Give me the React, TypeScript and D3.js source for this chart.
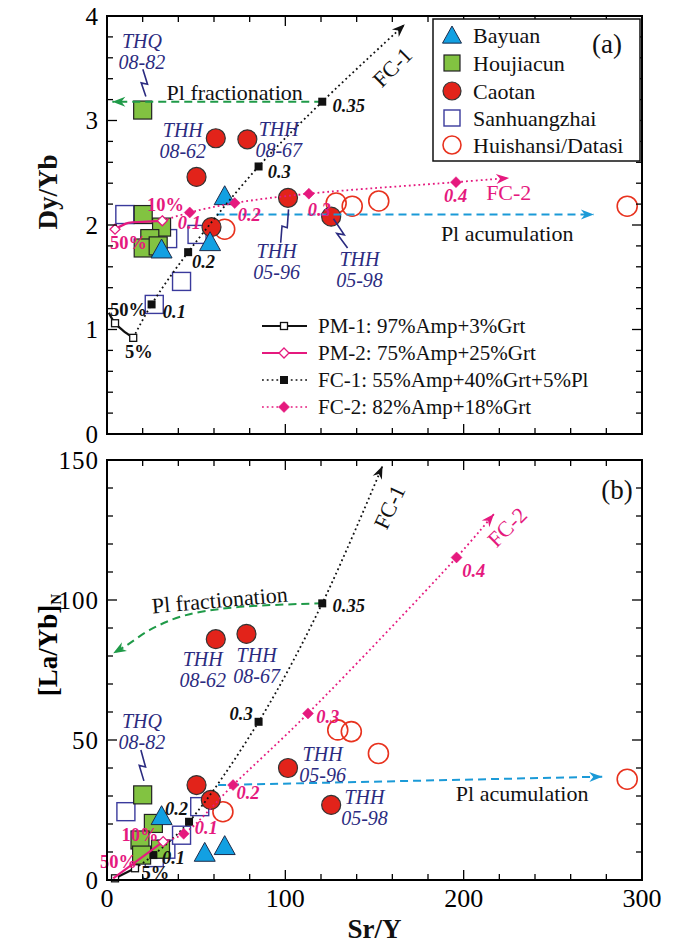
import React from "react";
import * as d3 from "d3";

// ---------- data ----------
const xTickLabels = [0, 100, 200, 300];
const yTickLabelsA = [0, 1, 2, 3, 4];
const yTickLabelsB = [0, 50, 100, 150];

const bayuanA = [[66, 2.27], [57.8, 1.83], [30.6, 1.76]];
const houjiacunA = [[20, 3.1], [20.3, 2.1], [30.6, 1.98], [24, 1.87], [20.3, 1.78], [28.7, 1.8]];
const caotanA = [[61, 2.83], [78.7, 2.82], [50.2, 2.46], [101.5, 2.26], [58.6, 1.98], [125.7, 2.08]];
const sanhuangzhaiA = [[10, 2.1], [34, 1.87], [50.5, 1.91], [41.8, 1.46], [26.5, 1.24]];
const huishansiA = [[66, 1.96], [128.5, 2.21], [137.5, 2.18], [152.4, 2.23], [291.7, 2.18]];

const bayuanB = [[30.6, 22.6], [54.8, 9.5], [66, 11.9]];
const houjiacunB = [[20, 30.4], [26, 20.2], [18.5, 14.3], [19.4, 8.9], [30, 11]];
const caotanB = [[61, 86], [78.2, 87.9], [50.2, 33.9], [58.2, 28.6], [101.5, 40], [125.7, 26.8]];
const sanhuangzhaiB = [[10.6, 24.4], [26.5, 8], [33, 11], [41.8, 16], [52, 26.2]];
const huishansiB = [[65, 24.4], [129.4, 53.6], [137, 53], [152.2, 45.2], [291.7, 36]];

// model curves
const pm1LineA = [[1, 1.16], [4.5, 1.06], [9, 0.99], [14.7, 0.92]];
const pm1MarksA = [[4.5, 1.06], [14.7, 0.92]];
const pm2LineA = [[4.5, 1.96], [12, 2.02], [20, 2.03], [31, 2.04]];
const pm2MarksA = [[4.5, 1.96], [31, 2.04]];
const fc1A = [[14.7, 0.92], [25, 1.24], [45.5, 1.74], [85, 2.56], [120.7, 3.18], [167, 3.92]];
const fc2A = [[31, 2.04], [46.4, 2.12], [71.6, 2.21], [113.2, 2.3], [195.7, 2.41], [225.5, 2.45]];
const plFracA = [[120.7, 3.18], [3, 3.18]];
const plAccA = [[61.4, 2.1], [273, 2.1]];

const pm1LineB = [[4.5, 0.6], [15.7, 4.2]];
const pm1MarksB = [[4.5, 0.6], [15.7, 4.2]];
const pm2LineB = [[3.5, 0.6], [31.5, 13.7]];
const pm2MarksB = [[31.5, 13.7]];
const fc1B = [[15.7, 4.2], [26, 8.9], [46, 20.8], [85, 56.5], [120.7, 98.8], [154.5, 147.9]];
const fc2B = [[31.5, 13.7], [43, 16.5], [70.7, 33.9], [112.7, 59.5], [196, 115.2], [217, 130.7]];
const plFracB = [[120.7, 98.8], [70.3, 97.3], [42.5, 94.3], [24, 89.3], [11.2, 83.9], [3.5, 81]];
const plAccB = [[62.3, 33.9], [277.7, 36.9]];

// sample labels [line1, line2, x, y]
const sampleLabelsA = [
  ["THQ", "08-82", 19.6, 3.66],
  ["THH", "08-62", 42.5, 2.8],
  ["THH", "08-67", 96.3, 2.81],
  ["THH", "05-96", 95.1, 1.65],
  ["THH", "05-98", 141.6, 1.57],
];
const sampleLabelsB = [
  ["THQ", "08-82", 19.6, 52.9],
  ["THH", "08-62", 53.7, 75],
  ["THH", "08-67", 83.9, 76.4],
  ["THH", "05-96", 120.9, 41.1],
  ["THH", "05-98", 144.4, 25.7],
];
// leader lines [x1, y1, x2, y2]
const leadersA = [
  [20.1, 3.49, 21.8, 3.23],
  [101.8, 2.15, 97.4, 1.83],
  [127, 2.06, 134.9, 1.78],
];
const leadersB = [[19, 46.4, 20.7, 35.4]];

// step labels [text, x, y]
const blackStepsA = [["0.35", 126.5, 3.14], ["0.3", 90.1, 2.51], ["0.2", 47.6, 1.65], ["0.1", 31.3, 1.17]];
const blackPctA = [["50%", 1.7, 1.19], ["5%", 10.1, 0.78]];
const pinkStepsA = [["0.1", 39.7, 2.02], ["0.2", 73.3, 2.1], ["0.3", 112.5, 2.14], ["0.4", 189, 2.28]];
const pinkPctA = [["10%", 22.4, 2.19], ["50%", 1.7, 1.83]];

const blackStepsB = [["0.35", 126.5, 97.9], ["0.2", 32.5, 25.4], ["0.1", 30.8, 7.9]];
const blackStepsEndB = [["0.3", 81.7, 59.3]];
const blackPctB = [["5%", 19.4, 2.5]];
const pinkStepsB = [["0.1", 49.2, 18.6], ["0.2", 72.6, 31], ["0.3", 117.3, 58.2], ["0.4", 199.2, 110.4]];
const pinkPctB = [["10%", 8.2, 16], ["50%", -3.9, 6.4]];

const legendNames = ["Bayuan", "Houjiacun", "Caotan", "Sanhuangzhai", "Huishansi/Datasi"];
const modelNames = ["PM-1: 97%Amp+3%Grt", "PM-2: 75%Amp+25%Grt", "FC-1: 55%Amp+40%Grt+5%Pl", "FC-2: 82%Amp+18%Grt"];

// ---------- style ----------
const FONT = "'Liberation Serif', 'Times New Roman', serif";
const BLUE = "#12a0e2";
const GREEN = "#82c341";
const RED = "#e2231a";
const NAVY = "#3a3a9c";
const OPENRED = "#e8321e";
const PINK = "#e5197e";
const DGREEN = "#1f9a48";
const LBLUE = "#1b9ad7";
const LABEL = "#2b2b80";

const X0 = 107, X1 = 642;
const x = d3.scaleLinear().domain([0, 300]).range([X0, X1]);
const yA = d3.scaleLinear().domain([0, 4]).range([434, 16]);
const yB = d3.scaleLinear().domain([0, 150]).range([880, 460]);

function Tri({ cx, cy, s = 10.5 }) {
  return <polygon points={`${cx},${cy - s * 1.05} ${cx - s},${cy + s * 0.75} ${cx + s},${cy + s * 0.75}`} fill={BLUE} stroke="#1d2b4a" strokeWidth={1} />;
}
function Sq({ cx, cy, s = 9, fill, stroke, sw = 1.2 }) {
  return <rect x={cx - s} y={cy - s} width={2 * s} height={2 * s} fill={fill} stroke={stroke} strokeWidth={sw} />;
}
function Circ({ cx, cy, r = 9.5, fill, stroke, sw = 1.2 }) {
  return <circle cx={cx} cy={cy} r={r} fill={fill} stroke={stroke} strokeWidth={sw} />;
}
function Diamond({ cx, cy, s = 5, fill, stroke, sw = 1.3 }) {
  return <polygon points={`${cx},${cy - s} ${cx + s},${cy} ${cx},${cy + s} ${cx - s},${cy}`} fill={fill} stroke={stroke} strokeWidth={sw} />;
}

function Arrow({ pts, color }) {
  const n = pts.length;
  const [tx, ty] = pts[n - 1];
  const [px, py] = pts[n - 2];
  const a = Math.atan2(ty - py, tx - px);
  const L = 13, Wd = 5, N = 9;
  const pt = (d, o) => [tx - d * Math.cos(a) - o * Math.sin(a), ty - d * Math.sin(a) + o * Math.cos(a)];
  const p1 = pt(L, Wd), p2 = pt(N, 0), p3 = pt(L, -Wd);
  return <polygon points={`${tx},${ty} ${p1[0]},${p1[1]} ${p2[0]},${p2[1]} ${p3[0]},${p3[1]}`} fill={color} />;
}

function Lightning({ x1, y1, x2, y2 }) {
  const lx = (t) => x1 + (x2 - x1) * t;
  const ly = (t) => y1 + (y2 - y1) * t;
  const d = `M${x1},${y1} L${lx(0.55) + 3},${ly(0.55)} L${lx(0.45) - 3},${ly(0.5)} L${x2},${y2}`;
  return <path d={d} fill="none" stroke={LABEL} strokeWidth={1.6} />;
}

function Axes({ y, yMax, yMinorStep, yMajorStep, labels, showX }) {
  const top = y.range()[1], bot = y.range()[0];
  const els = [];
  for (let v = 0; v <= 300; v += 20) {
    const L = v % 100 === 0 ? 10 : 6;
    els.push(<line key={"xb" + v} x1={x(v)} x2={x(v)} y1={bot} y2={bot - L} stroke="#000" strokeWidth={1.3} />);
    els.push(<line key={"xt" + v} x1={x(v)} x2={x(v)} y1={top} y2={top + L} stroke="#000" strokeWidth={1.3} />);
  }
  const steps = Math.round(yMax / yMinorStep);
  for (let i = 0; i <= steps; i++) {
    const v = i * yMinorStep;
    const major = Math.abs(v / yMajorStep - Math.round(v / yMajorStep)) < 1e-6;
    const L = major ? 10 : 6;
    els.push(<line key={"yl" + i} x1={X0} x2={X0 + L} y1={y(v)} y2={y(v)} stroke="#000" strokeWidth={1.3} />);
    els.push(<line key={"yr" + i} x1={X1} x2={X1 - L} y1={y(v)} y2={y(v)} stroke="#000" strokeWidth={1.3} />);
  }
  return (
    <g>
      {els}
      <rect x={X0} y={top} width={X1 - X0} height={bot - top} fill="none" stroke="#000" strokeWidth={2} />
      {labels.map((v) => (
        <text key={"lab" + v} x={99} y={y(v)} textAnchor="end" dominantBaseline="central" fontSize={25} letterSpacing={1} fontFamily={FONT}>{v}</text>
      ))}
      {showX && xTickLabels.map((v) => (
        <text key={"xl" + v} x={x(v)} y={898} textAnchor="middle" dominantBaseline="central" fontSize={26} fontFamily={FONT}>{v}</text>
      ))}
    </g>
  );
}

function Points({ y, bay, hou, cao, san, hui }) {
  return (
    <g>
      {hui.map((p, i) => <Circ key={"h" + i} cx={x(p[0])} cy={y(p[1])} r={10} fill="none" stroke={OPENRED} sw={1.6} />)}
      {san.map((p, i) => <Sq key={"s" + i} cx={x(p[0])} cy={y(p[1])} fill="#fff" stroke={NAVY} sw={1.4} />)}
      {hou.map((p, i) => <Sq key={"g" + i} cx={x(p[0])} cy={y(p[1])} fill={GREEN} stroke="#222" />)}
      {cao.map((p, i) => <Circ key={"c" + i} cx={x(p[0])} cy={y(p[1])} fill={RED} stroke="#333" />)}
      {bay.map((p, i) => <Tri key={"b" + i} cx={x(p[0])} cy={y(p[1])} />)}
    </g>
  );
}

function Models({ y, pm1, pm1m, pm2, pm2m, fc1, fc2, plf, pla }) {
  const line = d3.line().x((d) => x(d[0])).y((d) => y(d[1])).curve(d3.curveCatmullRom);
  const px = (arr) => arr.map((d) => [x(d[0]), y(d[1])]);
  return (
    <g>
      <path d={line(plf)} fill="none" stroke={DGREEN} strokeWidth={2} strokeDasharray="8,5" />
      <Arrow pts={px(plf)} color={DGREEN} />
      <path d={line(pla)} fill="none" stroke={LBLUE} strokeWidth={2} strokeDasharray="8,5" />
      <Arrow pts={px(pla)} color={LBLUE} />
      <path d={line(fc1)} fill="none" stroke="#111" strokeWidth={1.8} strokeDasharray="1.8,3" />
      <Arrow pts={px(fc1)} color="#111" />
      {fc1.slice(1, -1).map((p, i) => <rect key={"f1" + i} x={x(p[0]) - 4} y={y(p[1]) - 4} width={8} height={8} fill="#111" />)}
      <path d={line(fc2)} fill="none" stroke={PINK} strokeWidth={1.8} strokeDasharray="1.8,3" />
      <Arrow pts={px(fc2)} color={PINK} />
      {fc2.slice(1, -1).map((p, i) => <Diamond key={"f2" + i} cx={x(p[0])} cy={y(p[1])} s={5.5} fill={PINK} stroke={PINK} sw={0.5} />)}
      <path d={line(pm1)} fill="none" stroke="#111" strokeWidth={2.2} />
      {pm1m.map((p, i) => <Sq key={"p1" + i} cx={x(p[0])} cy={y(p[1])} s={3.5} fill="#fff" stroke="#111" sw={1.3} />)}
      <path d={line(pm2)} fill="none" stroke={PINK} strokeWidth={2.2} />
      {pm2m.map((p, i) => <Diamond key={"p2" + i} cx={x(p[0])} cy={y(p[1])} s={5} fill="#fff" stroke={PINK} sw={1.3} />)}
    </g>
  );
}

function StepLabels({ y, items, color, italic = true, anchor = "start" }) {
  return (
    <g>
      {items.map((d, i) => (
        <text key={i} x={x(d[1])} y={y(d[2])} textAnchor={anchor} dominantBaseline="central" fontSize={18.5} fontWeight="bold" fontStyle={italic ? "italic" : "normal"} fill={color} fontFamily={FONT}>{d[0]}</text>
      ))}
    </g>
  );
}

function SampleLabels({ y, items, leaders }) {
  return (
    <g>
      {items.map((d, i) => (
        <text key={i} x={x(d[2])} y={y(d[3])} textAnchor="middle" fontSize={20} fontStyle="italic" fill={LABEL} fontFamily={FONT}>
          <tspan x={x(d[2])} dy={-4}>{d[0]}</tspan>
          <tspan x={x(d[2])} dy={21}>{d[1]}</tspan>
        </text>
      ))}
      {leaders.map((l, i) => <Lightning key={"l" + i} x1={x(l[0])} y1={y(l[1])} x2={x(l[2])} y2={y(l[3])} />)}
    </g>
  );
}

function Txt({ cx, cy, children, size = 22, color = "#111", rot = 0, anchor = "middle", weight = "normal" }) {
  return (
    <text x={cx} y={cy} textAnchor={anchor} dominantBaseline="central" fontSize={size} fill={color} fontWeight={weight} fontFamily={FONT} transform={rot ? `rotate(${rot},${cx},${cy})` : undefined}>{children}</text>
  );
}

export default function App() {
  const lgY = [35, 63, 91, 118, 145];
  const mlY = [326, 353, 380, 407];
  return (
    <svg width={679} height={947} style={{ position: "absolute", left: 0, top: 0, background: "#fff" }}>
      <rect x={0} y={0} width={679} height={947} fill="#fff" />
      {/* panel a */}
      <Points y={yA} bay={bayuanA} hou={houjiacunA} cao={caotanA} san={sanhuangzhaiA} hui={huishansiA} />
      <Models y={yA} pm1={pm1LineA} pm1m={pm1MarksA} pm2={pm2LineA} pm2m={pm2MarksA} fc1={fc1A} fc2={fc2A} plf={plFracA} pla={plAccA} />
      <SampleLabels y={yA} items={sampleLabelsA} leaders={leadersA} />
      <StepLabels y={yA} items={blackStepsA} color="#111" />
      <StepLabels y={yA} items={blackPctA} color="#111" italic={false} />
      <StepLabels y={yA} items={pinkStepsA} color={PINK} />
      <StepLabels y={yA} items={pinkPctA} color={PINK} italic={false} />
      <Txt cx={x(71.6)} cy={yA(3.27)}>Pl fractionation</Txt>
      <Txt cx={x(224.4)} cy={yA(1.92)}>Pl acumulation</Txt>
      <Txt cx={x(212.6)} cy={yA(2.31)} color={PINK} anchor="start">FC-2</Txt>
      <Txt cx={x(160)} cy={yA(3.51)} rot={-45}>FC-1</Txt>
      <Axes y={yA} yMax={4} yMinorStep={0.2} yMajorStep={1} labels={yTickLabelsA} showX={false} />

      {/* legend (a) */}
      <rect x={433} y={19} width={207} height={142} fill="#fff" stroke="#111" strokeWidth={1.5} />
      <Tri cx={452} cy={lgY[0] + 1} s={9.5} />
      <Sq cx={452} cy={lgY[1]} s={8} fill={GREEN} stroke="#222" />
      <Circ cx={452} cy={lgY[2]} r={9} fill={RED} stroke="#333" />
      <Sq cx={452} cy={lgY[3]} s={8} fill="#fff" stroke={NAVY} sw={1.4} />
      <Circ cx={452} cy={lgY[4]} r={9} fill="none" stroke={OPENRED} sw={1.6} />
      {legendNames.map((n, i) => <Txt key={n} cx={473} cy={lgY[i]} anchor="start" size={22}>{n}</Txt>)}
      <Txt cx={592} cy={44} size={27} anchor="start">(a)</Txt>

      {/* model legend */}
      <line x1={262} x2={307} y1={mlY[0]} y2={mlY[0]} stroke="#111" strokeWidth={2.2} />
      <Sq cx={284} cy={mlY[0]} s={3.5} fill="#fff" stroke="#111" sw={1.3} />
      <line x1={262} x2={307} y1={mlY[1]} y2={mlY[1]} stroke={PINK} strokeWidth={2.2} />
      <Diamond cx={284} cy={mlY[1]} s={5} fill="#fff" stroke={PINK} />
      <line x1={262} x2={307} y1={mlY[2]} y2={mlY[2]} stroke="#111" strokeWidth={1.6} strokeDasharray="1.8,3" />
      <rect x={280} y={mlY[2] - 4} width={8} height={8} fill="#111" />
      <line x1={262} x2={307} y1={mlY[3]} y2={mlY[3]} stroke={PINK} strokeWidth={1.6} strokeDasharray="1.8,3" />
      <Diamond cx={284} cy={mlY[3]} s={5.5} fill={PINK} stroke={PINK} sw={0.5} />
      {modelNames.map((n, i) => <Txt key={n} cx={318} cy={mlY[i]} anchor="start" size={21}>{n}</Txt>)}

      {/* panel b */}
      <Points y={yB} bay={bayuanB} hou={houjiacunB} cao={caotanB} san={sanhuangzhaiB} hui={huishansiB} />
      <Models y={yB} pm1={pm1LineB} pm1m={pm1MarksB} pm2={pm2LineB} pm2m={pm2MarksB} fc1={fc1B} fc2={fc2B} plf={plFracB} pla={plAccB} />
      <SampleLabels y={yB} items={sampleLabelsB} leaders={leadersB} />
      <StepLabels y={yB} items={blackStepsB} color="#111" />
      <StepLabels y={yB} items={blackStepsEndB} color="#111" anchor="end" />
      <StepLabels y={yB} items={blackPctB} color="#111" italic={false} />
      <StepLabels y={yB} items={pinkStepsB} color={PINK} />
      <StepLabels y={yB} items={pinkPctB} color={PINK} italic={false} />
      <Txt cx={x(63.2)} cy={yB(100)} rot={-5}>Pl fractionation</Txt>
      <Txt cx={x(232.8)} cy={yB(31)}>Pl acumulation</Txt>
      <Txt cx={x(224.4)} cy={yB(126)} color={PINK} rot={-45}>FC-2</Txt>
      <Txt cx={x(158.4)} cy={yB(133.2)} rot={-65}>FC-1</Txt>
      <Axes y={yB} yMax={150} yMinorStep={10} yMajorStep={50} labels={yTickLabelsB} showX={true} />
      <Txt cx={617} cy={490} size={27}>(b)</Txt>

      {/* axis titles */}
      <Txt cx={48} cy={192} size={27} weight="bold" rot={-90}>Dy/Yb</Txt>
      <text x={48} y={645} textAnchor="middle" dominantBaseline="central" fontSize={27} fontWeight="bold" fontFamily={FONT} transform="rotate(-90,48,645)">
        [La/Yb]<tspan fontSize={15} dy={8}>N</tspan>
      </text>
      <Txt cx={x(150)} cy={929} size={27} weight="bold">Sr/Y</Txt>
    </svg>
  );
}
